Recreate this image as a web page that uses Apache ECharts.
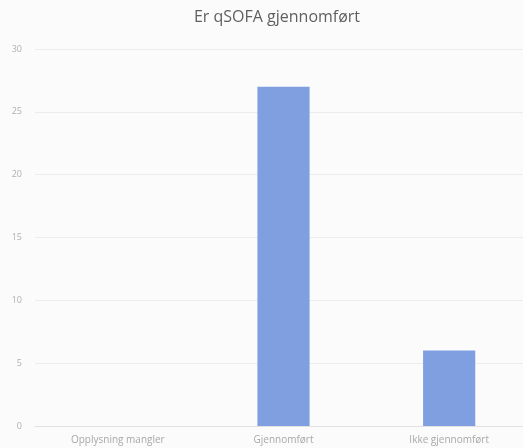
<!DOCTYPE html>
<html>
<head>
<meta charset="utf-8">
<script src="https://cdn.jsdelivr.net/npm/echarts@6/dist/echarts.min.js"></script>
<style>
html, body { margin: 0; padding: 0; background: #fbfbfb; }
#main { width: 523px; height: 448px; }
</style>
</head>
<body>
<div id="main"></div>
<script>
var categories = ['Opplysning mangler', 'Gjennomført', 'Ikke gjennomført'];
var values = [0, 27, 6];
var yTicks = { min: 0, max: 30, interval: 5 };

var chart = echarts.init(document.getElementById('main'));

chart.setOption({
    backgroundColor: '#fbfbfb',
    title: {
        text: 'Er qSOFA gjennomført',
        left: 272,
        textAlign: 'center',
        top: 4,
        textStyle: {
            fontFamily: 'Open Sans',
            fontWeight: 'normal',
            fontSize: 16,
            color: '#5f5f5f'
        }
    },
    grid: {
        left: 35,
        width: 497,
        top: 49,
        bottom: 22,
        containLabel: false,
        outerBoundsMode: 'none'
    },
    xAxis: {
        type: 'category',
        data: categories,
        axisLine: { lineStyle: { color: '#e2e2e2' } },
        axisTick: { show: false },
        axisLabel: {
            color: '#a8a8a8',
            fontFamily: 'Open Sans',
            fontSize: 10,
            margin: 9
        }
    },
    yAxis: {
        type: 'value',
        min: yTicks.min,
        max: yTicks.max,
        interval: yTicks.interval,
        axisLine: { show: false },
        axisTick: { show: false },
        axisLabel: {
            color: '#b0b0b0',
            fontFamily: 'Open Sans',
            fontSize: 9,
            margin: 13
        },
        splitLine: { lineStyle: { color: '#ececec' } }
    },
    series: [{
        type: 'bar',
        data: values,
        barWidth: '31.5%',
        itemStyle: { color: '#809fe0' }
    }]
});
</script>
</body>
</html>
